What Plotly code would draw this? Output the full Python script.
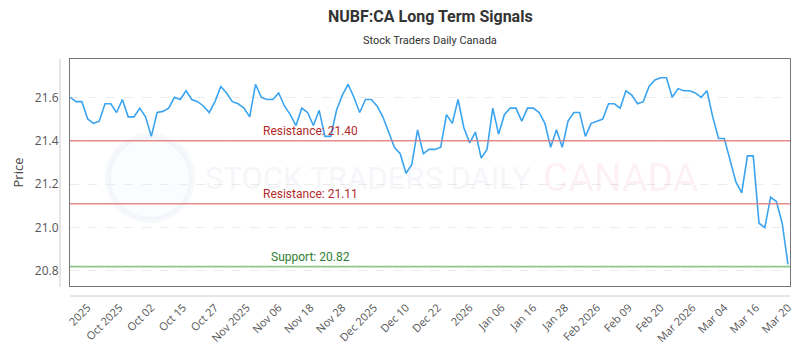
import numpy as np
import plotly.graph_objects as go

# ---- data ----
prices = [
    21.60, 21.58, 21.58, 21.50, 21.48, 21.49, 21.57, 21.57, 21.53, 21.59,
    21.51, 21.51, 21.55, 21.51, 21.42, 21.53, 21.535, 21.55, 21.60, 21.59,
    21.63, 21.59, 21.58, 21.56, 21.53, 21.58, 21.65, 21.62, 21.58, 21.57,
    21.55, 21.51, 21.66, 21.60, 21.59, 21.59, 21.62, 21.56, 21.52, 21.47,
    21.55, 21.53, 21.47, 21.54, 21.42, 21.42, 21.54, 21.61, 21.66, 21.60,
    21.53, 21.59, 21.59, 21.56, 21.51, 21.44, 21.37, 21.34, 21.25, 21.29,
    21.45, 21.34, 21.36, 21.36, 21.37, 21.52, 21.48, 21.59, 21.46, 21.39,
    21.44, 21.32, 21.36, 21.55, 21.43, 21.52, 21.55, 21.55, 21.49, 21.55,
    21.55, 21.53, 21.48, 21.37, 21.45, 21.37, 21.49, 21.53, 21.53, 21.42,
    21.48, 21.49, 21.50, 21.57, 21.57, 21.55, 21.63, 21.61, 21.57, 21.58,
    21.65, 21.68, 21.69, 21.69, 21.60, 21.64, 21.63, 21.63, 21.62, 21.60,
    21.63, 21.51, 21.41, 21.41, 21.31, 21.21, 21.16, 21.33, 21.33, 21.02,
    21.00, 21.14, 21.12, 21.02, 20.83,
]
tick_labels = [
    "2025", "Oct 2025", "Oct 02", "Oct 15", "Oct 27", "Nov 2025", "Nov 06",
    "Nov 18", "Nov 28", "Dec 2025", "Dec 10", "Dec 22", "2026", "Jan 06",
    "Jan 16", "Jan 28", "Feb 2026", "Feb 09", "Feb 20", "Mar 2026", "Mar 04",
    "Mar 16", "Mar 20",
]
levels = [
    ("Resistance: 21.40", 21.40, "rgba(226,120,120,0.85)", "#b22a2a"),
    ("Resistance: 21.11", 21.11, "rgba(226,120,120,0.85)", "#b22a2a"),
    ("Support: 20.82", 20.82, "rgba(120,190,120,0.85)", "#2e7d32"),
]

x = list(range(len(prices)))
n = len(prices)
tickvals = list(np.linspace(3, n - 1, len(tick_labels)))

W, H = 720, 227  # plot area in px
def px(xp): return (xp - 70) / W
def py(yp): return (286 - yp) / H

fig = go.Figure()
fig.add_trace(go.Scatter(
    x=x, y=prices, mode="lines",
    line=dict(color="#3ba4f0", width=1.6),
    hoverinfo="skip", showlegend=False,
))

for label, val, lc, tc in levels:
    fig.add_shape(type="line", xref="paper", yref="y", x0=0, x1=1, y0=val, y1=val,
                  line=dict(color=lc, width=1.6), layer="above")
    fig.add_annotation(xref="paper", yref="y", x=1/3, y=val, text=label,
                       showarrow=False, yanchor="bottom", yshift=1,
                       font=dict(family="Roboto, sans-serif", size=12, color=tc))

# watermark
fig.add_shape(type="circle", xref="paper", yref="paper",
              x0=px(108), x1=px(192), y0=py(220), y1=py(136),
              line=dict(color="rgba(180,195,225,0.12)", width=6),
              fillcolor="rgba(200,210,235,0.07)", layer="below")
fig.add_annotation(xref="paper", yref="paper", x=px(203), y=py(178), xanchor="left",
                   text="STOCK TRADERS DAILY", showarrow=False,
                   font=dict(family="Roboto, sans-serif", size=31, color="rgba(180,188,210,0.14)"))
fig.add_annotation(xref="paper", yref="paper", x=px(541), y=py(178), xanchor="left",
                   text="CANADA", showarrow=False,
                   font=dict(family="Roboto, sans-serif", size=39, color="rgba(240,150,160,0.14)"))

# extra frame lines
fig.add_shape(type="line", xref="paper", yref="paper", x0=px(60), x1=px(60),
              y0=py(287), y1=1, line=dict(color="#cccccc", width=1))
fig.add_shape(type="line", xref="paper", yref="paper", x0=0, x1=1,
              y0=py(296), y1=py(296), line=dict(color="#cccccc", width=1))

# title & subtitle
fig.add_annotation(xref="paper", yref="paper", x=0.5, y=py(16), yanchor="middle",
                   text="<b>NUBF:CA Long Term Signals</b>", showarrow=False,
                   font=dict(family="Roboto, sans-serif", size=16, color="#333333"))
fig.add_annotation(xref="paper", yref="paper", x=0.5, y=py(40), yanchor="middle",
                   text="Stock Traders Daily Canada", showarrow=False,
                   font=dict(family="Roboto, sans-serif", size=11, color="#333333"))

fig.update_layout(
    width=800, height=350,
    margin=dict(l=70, r=10, t=59, b=64, autoexpand=False),
    paper_bgcolor="white", plot_bgcolor="white",
    xaxis=dict(
        range=[-0.05, n - 1 + 0.35], automargin=False,
        tickmode="array", tickvals=tickvals, ticktext=tick_labels,
        tickangle=-45, ticks="outside", ticklen=10, tickcolor="rgba(0,0,0,0)",
        tickfont=dict(family="Open Sans, sans-serif", size=11, color="#555555"),
        showgrid=False, zeroline=False,
        showline=True, linecolor="#777777", linewidth=1, mirror=True,
    ),
    yaxis=dict(
        range=[20.7308, 21.7764], automargin=False,
        tickvals=[20.8, 21.0, 21.2, 21.4, 21.6],
        ticktext=["20.8", "21.0", "21.2", "21.4", "21.6"],
        tickfont=dict(family="Open Sans, sans-serif", size=12, color="#555555"),
        ticks="outside", ticklen=8, tickcolor="rgba(0,0,0,0)",
        showgrid=True, gridcolor="#ececec", griddash="dash", gridwidth=1,
        zeroline=False,
        showline=True, linecolor="#777777", linewidth=1, mirror=True,
        title=dict(text="Price", font=dict(family="Open Sans, sans-serif", size=13, color="#444444"),
                   standoff=8),
    ),
)

fig.write_html("out.html")
